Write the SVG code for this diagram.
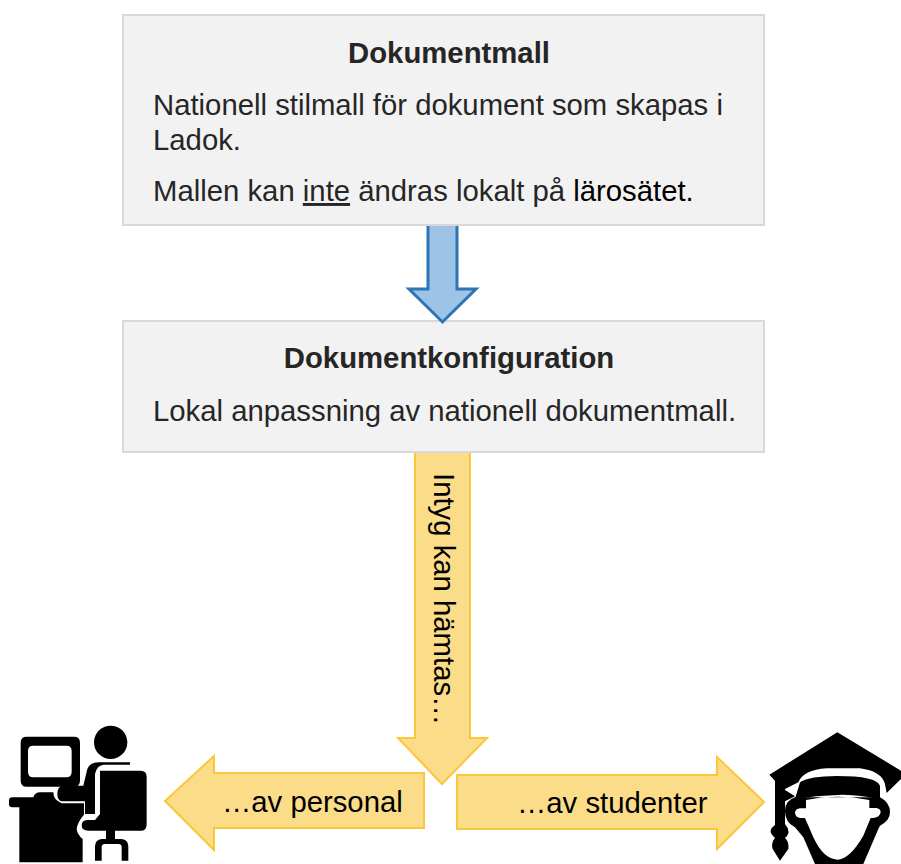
<svg xmlns="http://www.w3.org/2000/svg" width="901" height="864" viewBox="0 0 901 864">
<style>
text{font-family:"Liberation Sans",Arial,sans-serif;fill:#262626;font-size:29.3px}
.t{font-weight:bold;text-anchor:middle}
.b{fill:#000}
.box{fill:#f2f2f2;stroke:#d9d9d9;stroke-width:2}
.y{fill:#fbdc88;stroke:#fcc63b;stroke-width:2}
.k{fill:#000}
</style>
<rect width="901" height="864" fill="#fff"/>
<g id="node-dokumentmall">
<rect class="box" x="123" y="15" width="641" height="210"/>
<text class="t" x="449" y="62.500">Dokumentmall</text>
<text x="153" y="115">Nationell stilmall för dokument som skapas i</text>
<text x="153" y="150">Ladok.</text>
<text x="153" y="201">Mallen kan <tspan text-decoration="underline">inte</tspan> ändras lokalt på <tspan class="b">lärosätet.</tspan></text>
</g>
<g id="node-dokumentkonfiguration">
<rect class="box" x="123" y="321" width="641" height="131"/>
<text class="t" x="449" y="368">Dokumentkonfiguration</text>
<text x="153" y="421">Lokal anpassning av nationell dokumentmall.</text>
</g>
<g id="connectors">
<path id="arrow-blue" d="M428 226V289H409L442.500 322L476 289H457V226" fill="#9dc3e6" stroke="#2e75b6" stroke-width="3"/>
<path id="arrow-down" class="y" d="M415 453V738H398L442 784L487 738H470V453"/>
<path id="arrow-left" class="y" d="M424 773V828H214V850L165 801L214 756V773Z"/>
<path id="arrow-right" class="y" d="M457 775H717V757L764 802L717 849V829H457Z"/>
</g>
<g id="label-intyg">
<text class="b" transform="translate(434,473) rotate(90)">Intyg kan hämtas…</text>
</g>
<g id="label-personal"><text class="b" x="222" y="812">…av personal</text></g>
<g id="label-studenter"><text class="b" x="517" y="813">…av studenter</text></g>
<g id="icon-personal" transform="translate(0,714) scale(.3333)">
<circle class="k" cx="332" cy="85" r="50"/>
<path class="k" fill-rule="evenodd" d="M80 68H222Q240 68 240 86V200Q240 218 222 218H80Q62 218 62 200V86Q62 68 80 68ZM100 95Q84 95 84 111V174Q84 190 100 190H199Q215 190 215 174V111Q215 95 199 95Z"/>
<path class="k" d="M27 260Q27 250 37 250H100Q105 235 120 235H160Q160 258 185 268H252V302Q232 325 230 345Q232 362 248 375V445H58V280H37Q27 280 27 270Z"/>
<path class="k" d="M185 215H250L262 165Q270 145 295 145H390V152H310Q290 155 285 180V300H255V262H185Q172 258 172 240Q172 220 185 215Z"/>
<path class="k" d="M300 170H422Q440 170 440 188V332Q440 350 422 350H345V375H365Q385 378 385 397V440H365V400Q365 390 355 390H315Q305 390 305 400V440H285V397Q285 378 305 375H318V350H265Q245 350 245 334Q245 318 265 318H285L300 300Z"/>
</g>
<g id="icon-student" transform="translate(750,714) scale(.3333)">
<path class="k" d="M262 55L453 170V195L410 237L405 210Q395 172 330 163H230Q160 168 145 205L105 225V262L135 247L105 228V330Q118 345 115 358Q112 368 105 372Q118 385 115 405L90 440L68 405Q62 385 75 372Q60 358 62 350Q64 340 75 333V200L58 182Z"/>
<path class="k" d="M150 205Q180 186 260 186Q380 186 390 215V255Q300 240 262 243Q200 245 135 255Z"/>
<path class="k" fill-rule="evenodd" d="M135 250H390Q420 265 420 295Q420 320 390 335L385 345L340 450H195L160 370L135 340Q105 325 105 290Q105 260 135 250ZM168 258Q260 238 358 258V282H380Q392 285 392 295Q390 310 370 312H362L340 365Q300 435 262 437Q220 435 190 370L165 312H150Q135 310 135 295Q137 285 150 283H168Z"/>
</g>
</svg>
